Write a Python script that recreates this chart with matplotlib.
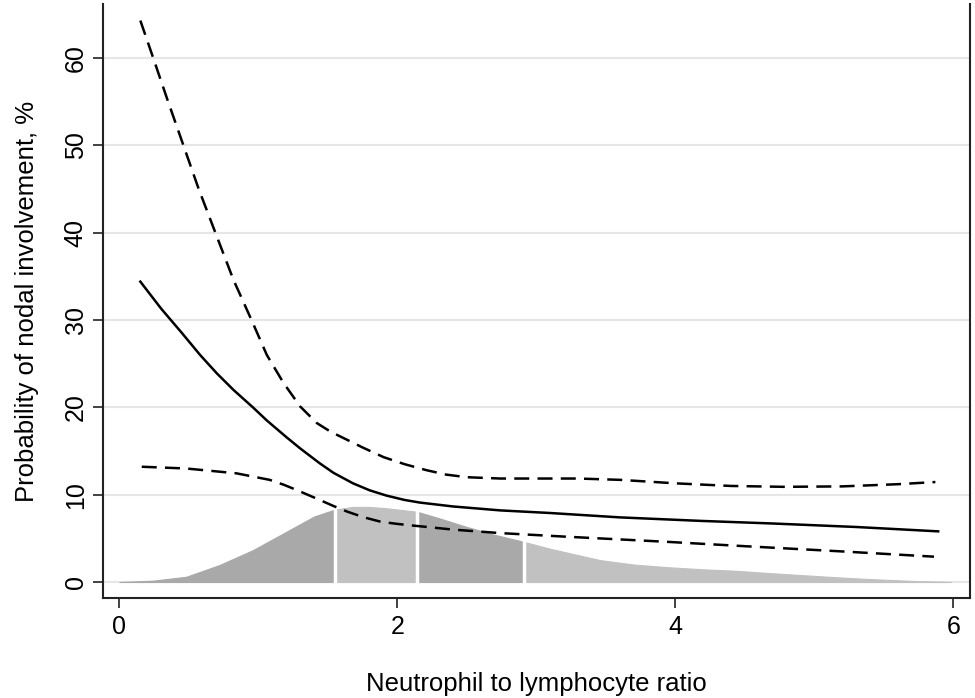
import numpy as np
import matplotlib.pyplot as plt

plt.rcParams['font.family'] = ['Liberation Sans', 'DejaVu Sans']

# predicted probability
fit_x = [0.15, 0.3, 0.45, 0.58, 0.7, 0.82, 0.96, 1.06, 1.2, 1.3, 1.44, 1.54, 1.68, 1.8, 1.92, 2.05,
         2.16, 2.4, 2.74, 3.1, 3.6, 4.18, 4.7, 5.3, 5.89]
fit_y = [34.4, 31.3, 28.5, 26.0, 23.9, 22.0, 20.0, 18.5, 16.6, 15.3, 13.6, 12.5, 11.3, 10.5, 9.9, 9.4,
         9.1, 8.65, 8.2, 7.9, 7.4, 7.0, 6.7, 6.3, 5.8]

# upper confidence limit
up_x = [0.15, 0.243, 0.35, 0.46, 0.57, 0.69, 0.82, 0.95, 1.06, 1.18, 1.3, 1.42, 1.52, 1.61, 1.75, 1.9,
        2.05, 2.21, 2.35, 2.5, 2.74, 3.0, 3.3, 3.6, 4.0, 4.4, 4.78, 5.2, 5.6, 5.87]
up_y = [64.3, 60.0, 55.0, 50.0, 45.0, 40.0, 34.6, 30.0, 26.0, 22.8, 20.1, 18.2, 17.2, 16.5, 15.4, 14.3,
        13.5, 12.8, 12.3, 12.0, 11.85, 11.85, 11.85, 11.7, 11.3, 11.0, 10.9, 10.95, 11.2, 11.45]

# lower confidence limit
lo_x = [0.16, 0.48, 0.84, 1.08, 1.18, 1.28, 1.36, 1.44, 1.54, 1.64, 1.76, 1.88, 2.0, 2.12, 2.4, 2.74,
        3.2, 3.94, 4.5, 5.2, 5.86]
lo_y = [13.2, 13.0, 12.45, 11.7, 11.15, 10.5, 9.95, 9.4, 8.7, 8.05, 7.4, 6.9, 6.65, 6.45, 6.0, 5.6,
        5.2, 4.6, 4.1, 3.5, 2.9]

# distribution of NLR (scaled density), quartiles
dens_x = [0.0, 0.24, 0.48, 0.72, 0.96, 1.2, 1.4, 1.55, 1.68, 1.8, 1.92, 2.14, 2.3, 2.5, 2.7,
          2.91, 3.1, 3.46, 3.7, 3.94, 4.2, 4.42, 4.65, 4.9, 5.15, 5.38, 5.74, 5.98]
dens_y = [0.0, 0.15, 0.6, 1.95, 3.65, 5.75, 7.5, 8.3, 8.6, 8.6, 8.45, 8.05, 7.3, 6.3, 5.4,
          4.6, 3.8, 2.5, 2.0, 1.7, 1.45, 1.3, 1.05, 0.8, 0.55, 0.35, 0.1, 0.0]
quartiles = [1.55, 2.14, 2.91]

fig = plt.figure(figsize=(9.75, 6.98), dpi=100)
ax = fig.add_axes([0.1056, 0.1433, 0.8894, 0.851])

dx = np.array(dens_x)
dy = np.array(dens_y)
edges = [dens_x[0]] + quartiles + [dens_x[-1]]
shades = ['#a9a9a9', '#c1c1c1', '#a9a9a9', '#c1c1c1']
for i in range(4):
    m = (dx >= edges[i]) & (dx <= edges[i + 1])
    ax.fill_between(dx[m], 0, dy[m], color=shades[i], lw=0.8, zorder=2)
for q in quartiles:
    ax.plot([q, q], [0, dens_y[dens_x.index(q)]], color='white', lw=2.5, zorder=3)

ax.plot(fit_x, fit_y, color='black', lw=1.8, zorder=4)
ax.plot(up_x, up_y, color='black', lw=1.8, dashes=(6, 3.3), zorder=4)
ax.plot(lo_x, lo_y, color='black', lw=1.8, dashes=(6, 3.3), zorder=4)

ax.set_xlim(-0.119, 6.12)
ax.set_ylim(-1.83, 66.2)
ax.set_xticks([0, 2, 4, 6])
ax.set_yticks([0, 10, 20, 30, 40, 50, 60])
ax.set_yticklabels(['0', '10', '20', '30', '40', '50', '60'], rotation=90, va='center')
ax.yaxis.grid(True, color='#e6e6e6', lw=1.5, zorder=0)
ax.set_axisbelow(True)
ax.tick_params(axis='both', direction='out', length=7, width=1.2, labelsize=18, color='#222222')
ax.tick_params(axis='x', pad=5)
ax.tick_params(axis='y', pad=4)

for s in ['left', 'bottom', 'right']:
    ax.spines[s].set_color('#222222')
    ax.spines[s].set_linewidth(1.5)
ax.spines['top'].set_visible(False)

ax.set_xlabel('Neutrophil to lymphocyte ratio', fontsize=18.5, labelpad=24)
ax.set_ylabel('Probability of nodal involvement, %', fontsize=18.5, labelpad=18)

fig.savefig('out.png', dpi=100)
